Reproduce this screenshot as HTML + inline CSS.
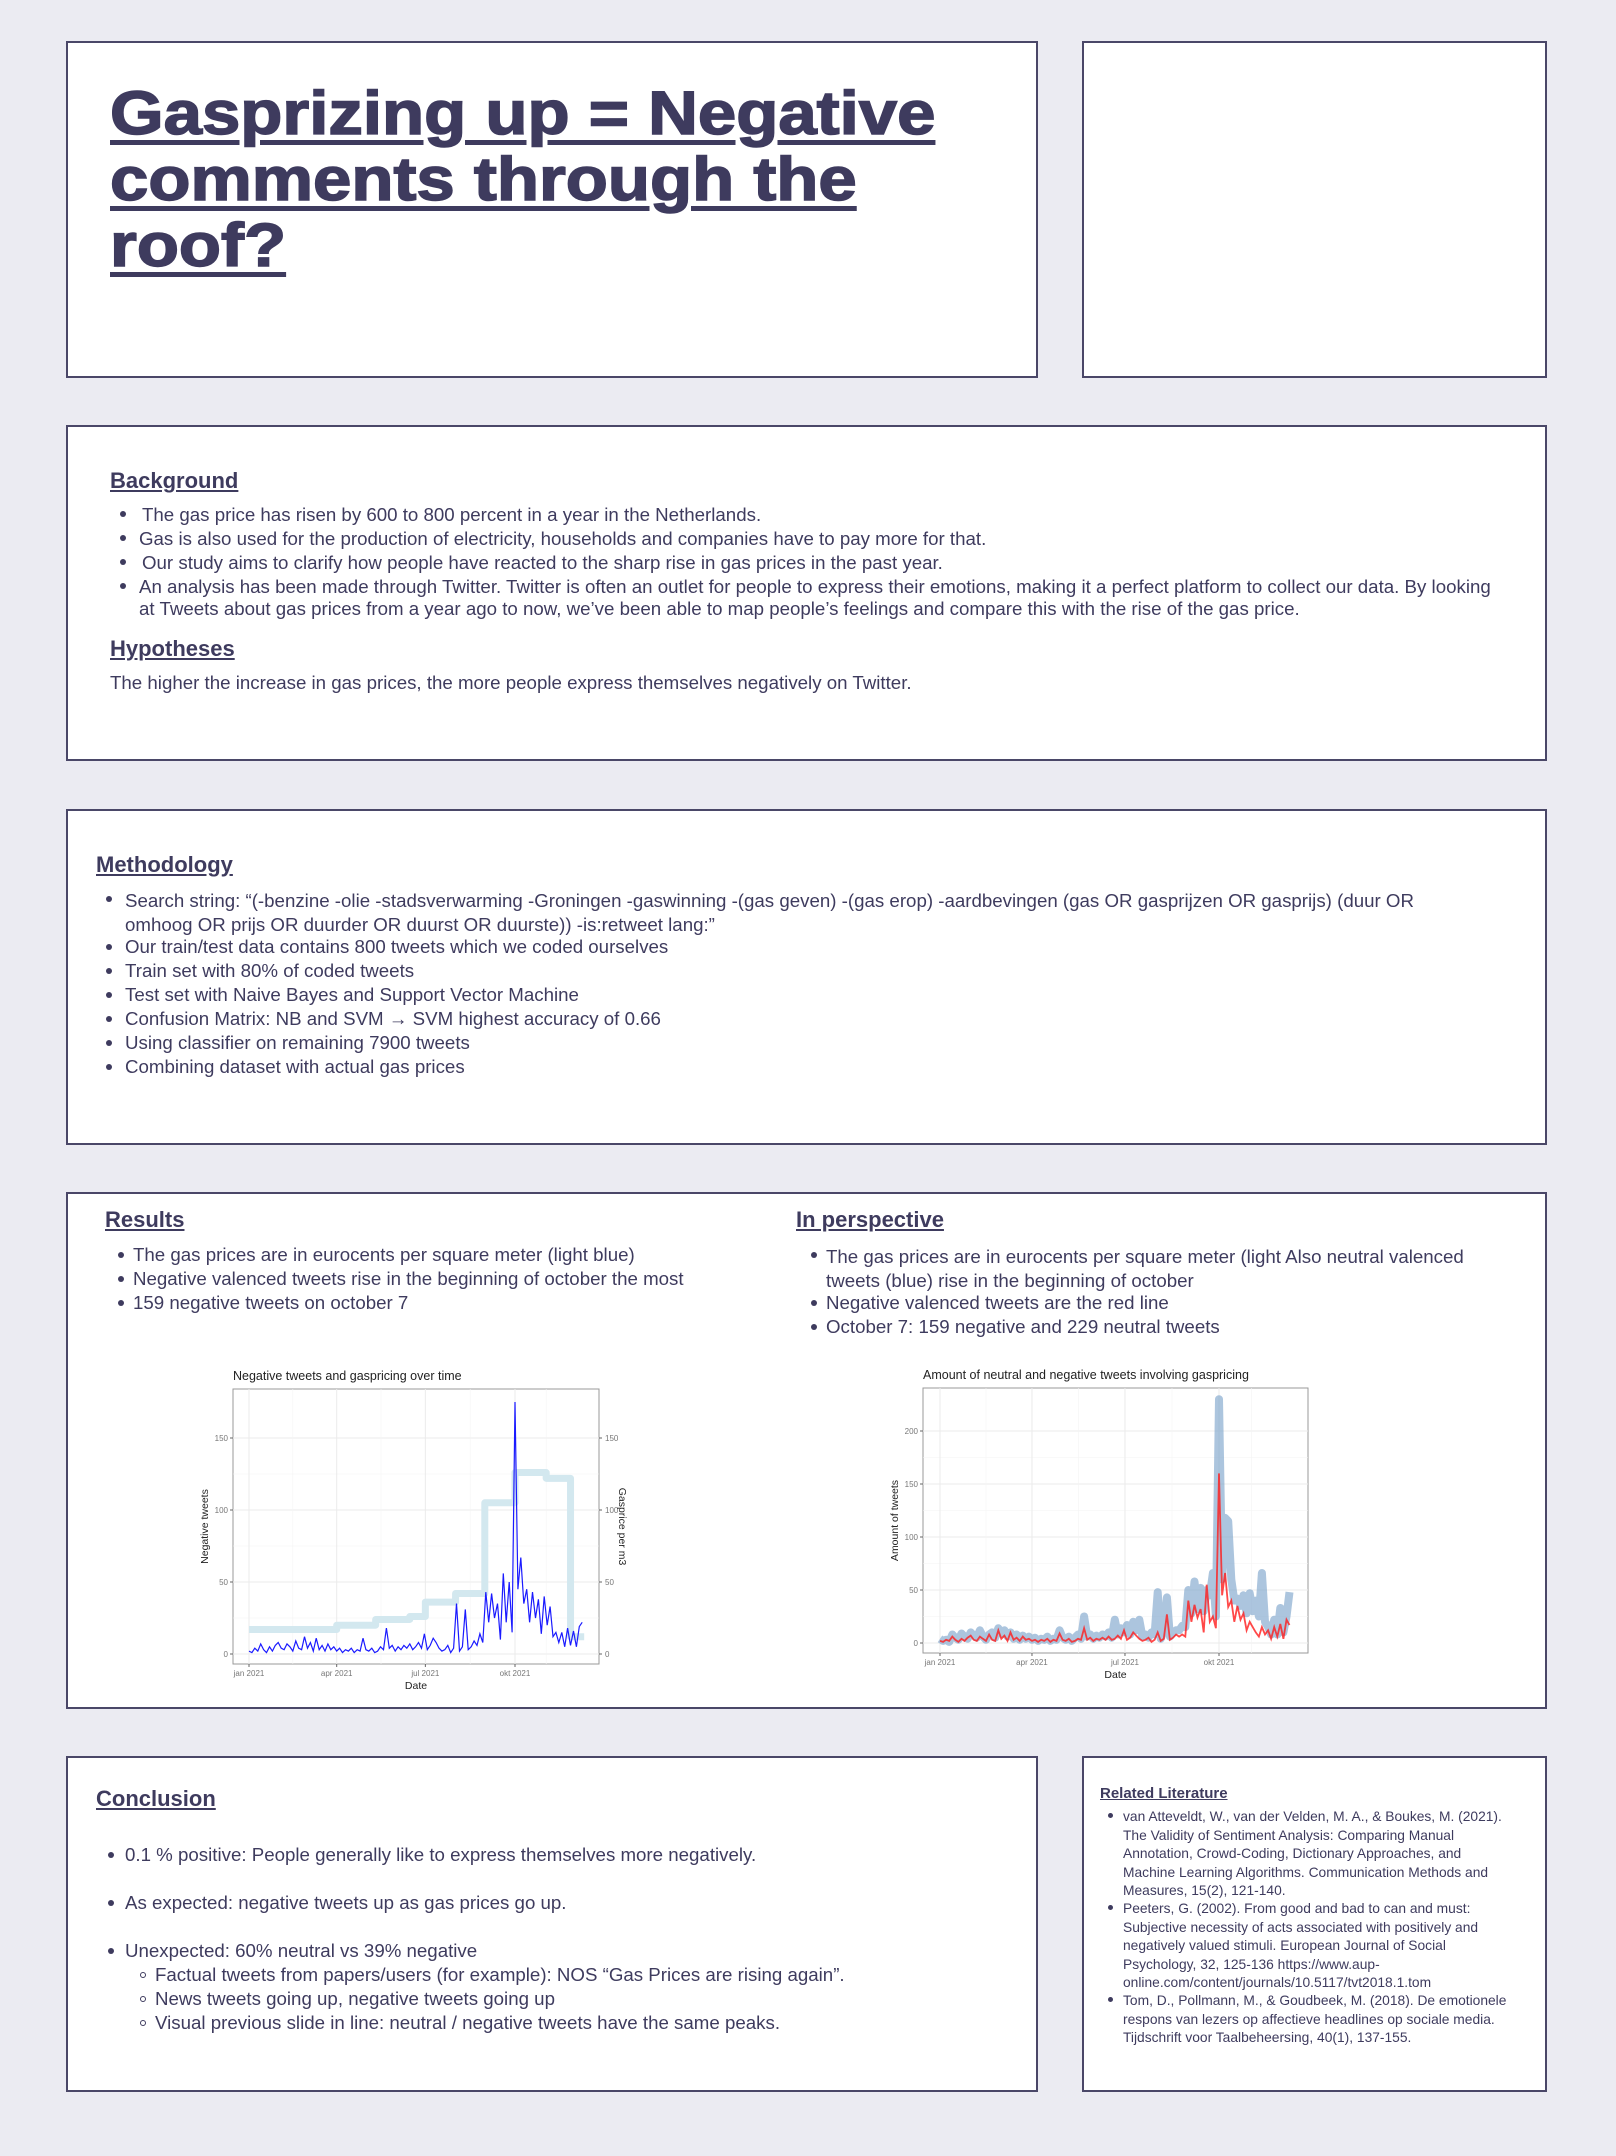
<!DOCTYPE html>
<html><head><meta charset="utf-8">
<style>
body{margin:0;width:1616px;height:2156px;background:#ebebf2;position:relative;font-family:"Liberation Sans",sans-serif;color:#3e3b5e;overflow:hidden}
.box{position:absolute;background:#fff;border:2px solid #4a4768;box-sizing:border-box}
.t{position:absolute;white-space:nowrap;font-size:18.7px;line-height:20px}
.h{position:absolute;white-space:nowrap;font-size:22px;font-weight:bold;text-decoration:underline;line-height:26px}
.b{position:absolute;width:6px;height:6px;border-radius:50%;background:#3e3b5e;margin-top:3px}
.c{position:absolute;width:6px;height:6px;border-radius:50%;border:1.5px solid #3e3b5e;box-sizing:border-box;margin-top:3px}
.lit{position:absolute;white-space:nowrap;font-size:13.8px;line-height:16px}
svg text{font-family:"Liberation Sans",sans-serif}
</style></head><body>
<div class="box" style="left:66px;top:41px;width:972px;height:337px"></div>
<div style="position:absolute;left:110px;top:80px;font-size:61px;line-height:66px;font-weight:bold;text-decoration:underline;text-decoration-thickness:5px;text-underline-offset:6px;white-space:nowrap;transform:scaleX(1.13);transform-origin:0 0;-webkit-text-stroke:1.5px #3e3b5e">Gasprizing up = Negative<br>comments through the<br>roof?</div>
<div class="box" style="left:1082px;top:41px;width:465px;height:337px"></div>

<div class="box" style="left:66px;top:425px;width:1481px;height:336px"></div>
<div class="h" style="left:110px;top:468px">Background</div>
<div class="b" style="left:120px;top:508px"></div><div class="t" style="left:142px;top:505px">The gas price has risen by 600 to 800 percent in a year in the Netherlands.</div>
<div class="b" style="left:120px;top:532px"></div><div class="t" style="left:139px;top:529px">Gas is also used for the production of electricity, households and companies have to pay more for that.</div>
<div class="b" style="left:120px;top:556px"></div><div class="t" style="left:142px;top:553px">Our study aims to clarify how people have reacted to the sharp rise in gas prices in the past year.</div>
<div class="b" style="left:120px;top:580px"></div><div class="t" style="left:139px;top:577px">An analysis has been made through Twitter. Twitter is often an outlet for people to express their emotions, making it a perfect platform to collect our data. By looking<br><span style="line-height:24px">at Tweets about gas prices from a year ago to now, we’ve been able to map people’s feelings and compare this with the rise of the gas price.</span></div>
<div class="h" style="left:110px;top:636px">Hypotheses</div>
<div class="t" style="left:110px;top:673px">The higher the increase in gas prices, the more people express themselves negatively on Twitter.</div>

<div class="box" style="left:66px;top:809px;width:1481px;height:336px"></div>
<div class="h" style="left:96px;top:852px">Methodology</div>
<div class="b" style="left:106px;top:893px"></div><div class="t" style="left:125px;top:889px;line-height:24px">Search string: “(-benzine -olie -stadsverwarming -Groningen -gaswinning -(gas geven) -(gas erop) -aardbevingen (gas OR gasprijzen OR gasprijs) (duur OR<br>omhoog OR prijs OR duurder OR duurst OR duurste)) -is:retweet lang:”</div>
<div class="b" style="left:106px;top:941px"></div><div class="t" style="left:125px;top:937px">Our train/test data contains 800 tweets which we coded ourselves</div>
<div class="b" style="left:106px;top:965px"></div><div class="t" style="left:125px;top:961px">Train set with 80% of coded tweets</div>
<div class="b" style="left:106px;top:989px"></div><div class="t" style="left:125px;top:985px">Test set with Naive Bayes and Support Vector Machine</div>
<div class="b" style="left:106px;top:1013px"></div><div class="t" style="left:125px;top:1009px">Confusion Matrix: NB and SVM → SVM highest accuracy of 0.66</div>
<div class="b" style="left:106px;top:1037px"></div><div class="t" style="left:125px;top:1033px">Using classifier on remaining 7900 tweets</div>
<div class="b" style="left:106px;top:1061px"></div><div class="t" style="left:125px;top:1057px">Combining dataset with actual gas prices</div>

<div class="box" style="left:66px;top:1192px;width:1481px;height:517px"></div>
<div class="h" style="left:105px;top:1207px">Results</div>
<div class="b" style="left:118px;top:1249px"></div><div class="t" style="left:133px;top:1245px">The gas prices are in eurocents per square meter (light blue)</div>
<div class="b" style="left:118px;top:1273px"></div><div class="t" style="left:133px;top:1269px">Negative valenced tweets rise in the beginning of october the most</div>
<div class="b" style="left:118px;top:1297px"></div><div class="t" style="left:133px;top:1293px">159 negative tweets on october 7</div>
<div class="h" style="left:796px;top:1207px">In perspective</div>
<div class="b" style="left:811px;top:1249px"></div><div class="t" style="left:826px;top:1245px;line-height:24px">The gas prices are in eurocents per square meter (light Also neutral valenced<br>tweets (blue) rise in the beginning of october</div>
<div class="b" style="left:811px;top:1297px"></div><div class="t" style="left:826px;top:1293px">Negative valenced tweets are the red line</div>
<div class="b" style="left:811px;top:1321px"></div><div class="t" style="left:826px;top:1317px">October 7: 159 negative and 229 neutral tweets</div>

<svg id="chart1" style="position:absolute;left:0;top:0" width="1616" height="2156" pointer-events="none"></svg>

<div class="box" style="left:66px;top:1756px;width:972px;height:336px"></div>
<div class="h" style="left:96px;top:1786px">Conclusion</div>
<div class="b" style="left:108px;top:1849px"></div><div class="t" style="left:125px;top:1845px">0.1 % positive: People generally like to express themselves more negatively.</div>
<div class="b" style="left:108px;top:1897px"></div><div class="t" style="left:125px;top:1893px">As expected: negative tweets up as gas prices go up.</div>
<div class="b" style="left:108px;top:1945px"></div><div class="t" style="left:125px;top:1941px">Unexpected: 60% neutral vs 39% negative</div>
<div class="c" style="left:140px;top:1969px"></div><div class="t" style="left:155px;top:1965px">Factual tweets from papers/users (for example): NOS “Gas Prices are rising again”.</div>
<div class="c" style="left:140px;top:1993px"></div><div class="t" style="left:155px;top:1989px">News tweets going up, negative tweets going up</div>
<div class="c" style="left:140px;top:2017px"></div><div class="t" style="left:155px;top:2013px">Visual previous slide in line: neutral / negative tweets have the same peaks.</div>

<div class="box" style="left:1082px;top:1756px;width:465px;height:336px"></div>
<div style="position:absolute;left:1100px;top:1785px;font-size:15px;font-weight:bold;text-decoration:underline;white-space:nowrap">Related Literature</div>
<div class="b" style="left:1108px;top:1810px;width:5px;height:5px"></div>
<div class="lit" style="left:1123px;top:1808px;line-height:18.5px">van Atteveldt, W., van der Velden, M. A., &amp; Boukes, M. (2021).<br>The Validity of Sentiment Analysis: Comparing Manual<br>Annotation, Crowd-Coding, Dictionary Approaches, and<br>Machine Learning Algorithms. Communication Methods and<br>Measures, 15(2), 121-140.</div>
<div class="b" style="left:1108px;top:1902px;width:5px;height:5px"></div>
<div class="lit" style="left:1123px;top:1900px;line-height:18.5px">Peeters, G. (2002). From good and bad to can and must:<br>Subjective necessity of acts associated with positively and<br>negatively valued stimuli. European Journal of Social<br>Psychology, 32, 125-136 https://www.aup-<br>online.com/content/journals/10.5117/tvt2018.1.tom</div>
<div class="b" style="left:1108px;top:1994px;width:5px;height:5px"></div>
<div class="lit" style="left:1123px;top:1992px;line-height:18.5px">Tom, D., Pollmann, M., &amp; Goudbeek, M. (2018). De emotionele<br>respons van lezers op affectieve headlines op sociale media.<br>Tijdschrift voor Taalbeheersing, 40(1), 137-155.</div>

<script>
// Data: one value every 3 days starting 1 Jan 2021
const negTweets=[2,1,4,2,7,3,1,5,2,6,8,4,3,7,5,2,9,4,3,12, 4,8,2,11,3,6,2,7,3,5, 2,4,1,3,2,4,1,3,2,11, 3,2,4,1,2,5,3,18,4,6, 2,5,3,6,4,7,3,5,8,4, 14,3,6,11,8,4,2,3,6,1, 4,35,2,5,31,3,5,9,6,14, 8,43,22,42,25,35,10,56,22,50, 15,175,45,67,35,45,22,43,25,38, 14,40,20,33,12,15,8,15,5,18, 6,16,5,19,22];
const priceDays=[0,90,130,165,181,212,242,273,305,330,344];
const priceVals=[17,20,24,26,36,42,105,126,122,12,12];
const neutralTweets=[4,2,3,1,8,5,3,9,6,4,10,7,5,12,6,3,8,10,5,14, 9,12,6,10,4,8,3,7,4,6, 3,5,2,4,3,6,2,4,3,12, 5,3,6,2,5,8,4,25,6,8, 4,7,5,8,6,10,5,22,8,14, 10,17,8,20,12,22,6,8,5,10, 8,48,4,12,43,6,10,12,12,16, 15,50,28,58,32,52,30,50,45,66, 25,230,60,118,115,60,40,42,35,45, 28,47,30,40,25,66,20,15,8,22, 8,33,10,25,48];
const negTweets2=[2,1,3,2,6,3,1,4,2,5,7,3,2,6,4,2,8,3,2,12, 4,7,2,10,3,5,2,6,3,4, 2,3,1,3,2,4,1,3,2,9, 3,2,4,1,2,4,3,14,3,5, 2,4,3,5,3,6,3,4,7,4, 12,3,5,10,7,4,2,3,5,1, 3,10,2,4,27,3,5,8,6,8, 6,40,20,36,24,32,10,55,20,25, 14,160,45,66,34,40,20,35,22,28, 12,20,15,10,6,15,8,12,4,15, 6,18,4,22,17];
const monthTicks=["jan 2021","apr 2021","jul 2021","okt 2021"];
const monthDays=[0,90,181,273];
const ticks1=[0,50,100,150];
const ticks2=[0,50,100,150,200];
const STEP=3;
const svg=document.getElementById('chart1');
const NS='http://www.w3.org/2000/svg';
function el(tag,attrs,text){const e=document.createElementNS(NS,tag);for(const k in attrs)e.setAttribute(k,attrs[k]);if(text!=null)e.textContent=text;svg.appendChild(e);return e;}

function frame(c){
  const r=el('rect',{x:c.x0,y:c.y0,width:c.x1-c.x0,height:c.y1-c.y0,fill:'#fff',stroke:'#999','stroke-width':1});
  
  
  c.ticks.forEach((v,i)=>{
    const g=el('line',{x1:c.x0,x2:c.x1,y1:c.sy(v),y2:c.sy(v),stroke:'#ebebeb','stroke-width':1});
    
    
    if(i<c.ticks.length-1){el('line',{x1:c.x0,x2:c.x1,y1:c.sy((v+c.ticks[i+1])/2),y2:c.sy((v+c.ticks[i+1])/2),stroke:'#f4f4f4','stroke-width':0.6});}
    el('line',{x1:c.x0-3,x2:c.x0,y1:c.sy(v),y2:c.sy(v),stroke:'#666'});
    const t=el('text',{x:c.x0-5,y:c.sy(v)+3,'font-size':8,fill:'#777','text-anchor':'end'},String(v));
    
    
  });
  monthDays.forEach((d,i)=>{
    el('line',{x1:c.sx(d),x2:c.sx(d),y1:c.y0,y2:c.y1,stroke:'#ebebeb'});
    if(i<monthDays.length-1) el('line',{x1:c.sx((d+monthDays[i+1])/2),x2:c.sx((d+monthDays[i+1])/2),y1:c.y0,y2:c.y1,stroke:'#f4f4f4','stroke-width':0.6});
    el('line',{x1:c.sx(d),x2:c.sx(d),y1:c.y1,y2:c.y1+3,stroke:'#666'});
    const t=el('text',{x:c.sx(d),y:c.y1+12,'font-size':8,fill:'#777','text-anchor':'middle'},monthTicks[i]);
    
    
  });
  el('line',{x1:c.sx(305),x2:c.sx(305),y1:c.y0,y2:c.y1,stroke:'#f4f4f4','stroke-width':0.6});
  const tt=el('text',{x:c.x0,y:c.y0-9,'font-size':12.5,fill:'#222'},c.title);
  
  
  const xl=el('text',{x:(c.x0+c.x1)/2,y:c.y1+25,'font-size':10.5,fill:'#222','text-anchor':'middle'},'Date');
  
  
  const yl=el('text',{x:0,y:0,'font-size':10.5,fill:'#222','text-anchor':'middle',transform:`translate(${c.x0-25},${(c.y0+c.y1)/2}) rotate(-90)`},c.ylab);
  
  
}
function pts(c,arr){return arr.map((v,i)=>c.sx(i*STEP).toFixed(1)+','+c.sy(v).toFixed(1)).join(' ');}

// Chart 1
const c1={x0:233,x1:599,y0:1389,y1:1664,title:'Negative tweets and gaspricing over time',ylab:'Negative tweets',ticks:ticks1};
c1.sx=d=>249+(d/273)*(515-249);
c1.sy=v=>1654-v*(1654-1438)/150;
frame(c1);
ticks1.forEach(v=>{
  el('line',{x1:c1.x1,x2:c1.x1+3,y1:c1.sy(v),y2:c1.sy(v),stroke:'#666'});
  const t=el('text',{x:c1.x1+6,y:c1.sy(v)+3,'font-size':8,fill:'#777'},String(v));
  
  
});
const y2=el('text',{x:0,y:0,'font-size':10.5,fill:'#222','text-anchor':'middle',transform:`translate(${c1.x1+20},${(c1.y0+c1.y1)/2}) rotate(90)`},'Gasprice per m3');


let sp='';
priceDays.forEach((d,i)=>{const x=c1.sx(d),y=c1.sy(priceVals[i]);if(i===0)sp+=`M${x},${y}`;else sp+=`L${x},${c1.sy(priceVals[i-1])}L${x},${y}`;});
const gp=el('path',{d:sp,fill:'none',stroke:'#d3e8ef','stroke-width':7,'stroke-linejoin':'round'});


const nl=el('polyline',{points:pts(c1,negTweets),fill:'none',stroke:'#1a1aff','stroke-width':1.2});



// Chart 2
const c2={x0:923,x1:1308,y0:1388,y1:1653,title:'Amount of neutral and negative tweets involving gaspricing',ylab:'Amount of tweets',ticks:ticks2};
c2.sx=d=>940+(d/273)*(1219-940);
c2.sy=v=>1643-v*(1643-1431)/200;
frame(c2);
const bl=el('polyline',{points:pts(c2,neutralTweets),fill:'none',stroke:'#7fa6cc','stroke-opacity':0.65,'stroke-width':8,'stroke-linejoin':'round'});


const rl=el('polyline',{points:pts(c2,negTweets2),fill:'none',stroke:'#ff1a1a','stroke-width':1.8,'stroke-opacity':0.8});


</script>
</body></html>
